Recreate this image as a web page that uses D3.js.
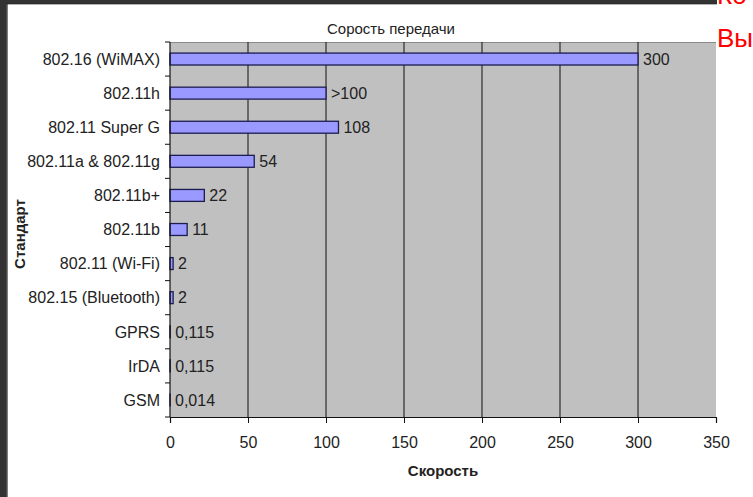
<!DOCTYPE html>
<html><head><meta charset="utf-8">
<script src="https://cdn.jsdelivr.net/npm/d3@7"></script>
<style>html,body{margin:0;padding:0;background:#fff;overflow:hidden}svg{display:block}</style>
</head><body>
<svg id="c" width="753" height="497"></svg>
<script>
const categories = ["802.16 (WiMAX)","802.11h","802.11 Super G","802.11a & 802.11g","802.11b+","802.11b","802.11 (Wi-Fi)","802.15 (Bluetooth)","GPRS","IrDA","GSM"];
const speeds = [300, 100, 108, 54, 22, 11, 2, 2, 0.115, 0.115, 0.014];
const valueLabels = ["300", ">100", "108", "54", "22", "11", "2", "2", "0,115", "0,115", "0,014"];
const xTicks = [0, 50, 100, 150, 200, 250, 300, 350];
const title = "Сорость передачи";
const xTitle = "Скорость";
const yTitle = "Стандарт";

const svg = d3.select("#c");
const font = "'Liberation Sans', Arial, sans-serif";
const txt = "#222";

// page frame
svg.append("rect").attr("x",0).attr("y",0).attr("width",753).attr("height",497).attr("fill","#fff");
svg.append("rect").attr("x",0).attr("y",0).attr("width",717).attr("height",3.5).attr("fill","#333");
svg.append("rect").attr("x",0).attr("y",0).attr("width",6.5).attr("height",497).attr("fill","#333");
svg.append("line").attr("x1",6.5).attr("x2",717).attr("y1",3.8).attr("y2",3.8).attr("stroke","#000").attr("stroke-width",1);
svg.append("line").attr("x1",7).attr("x2",7).attr("y1",3.5).attr("y2",497).attr("stroke","#000").attr("stroke-width",1);

const x = d3.scaleLinear().domain([0, 350]).range([170, 716]);
const y = d3.scaleBand().domain(categories).range([42, 417]).padding(0);
const barH = y.bandwidth() * 0.35;

// plot background
svg.append("rect").attr("x", x(0)).attr("y", y.range()[0])
  .attr("width", x(350) - x(0)).attr("height", y.range()[1] - y.range()[0])
  .attr("fill", "#c0c0c0");
svg.append("line").attr("x1", x(0)).attr("x2", x(350)).attr("y1", 42.5).attr("y2", 42.5)
  .attr("stroke", "#8a8a8a").attr("stroke-width", 1);

// gridlines
svg.append("g").selectAll("line").data(xTicks.filter(t => t > 0 && t < 350)).join("line")
  .attr("x1", d => x(d)).attr("x2", d => x(d))
  .attr("y1", y.range()[0]).attr("y2", y.range()[1])
  .attr("stroke", "#111").attr("stroke-width", 1);

// bars
svg.append("g").selectAll("rect").data(speeds).join("rect")
  .attr("x", x(0))
  .attr("y", (d, i) => y(categories[i]) + (y.bandwidth() - barH) / 2)
  .attr("width", d => x(d) - x(0))
  .attr("height", barH)
  .attr("fill", "#9999ff")
  .attr("stroke", "#1c1c50")
  .attr("stroke-width", 1.3);

// bottom axis
const xAxis = d3.axisBottom(x).tickValues(xTicks).tickSize(6).tickPadding(14).tickFormat(d3.format("d"));
const gx = svg.append("g").attr("transform", `translate(0,${y.range()[1]})`).call(xAxis);
gx.select(".domain").attr("stroke", "#111").attr("stroke-width", 1.2);
gx.selectAll(".tick line").attr("stroke", "#111");
gx.selectAll(".tick text").attr("font-family", font).attr("font-size", 16).attr("fill", txt);

// left axis
svg.append("line").attr("x1", x(0)).attr("x2", x(0)).attr("y1", y.range()[0]).attr("y2", y.range()[1])
  .attr("stroke", "#111").attr("stroke-width", 1.2);
const bounds = categories.map(c => y(c)).concat([y.range()[1]]);
svg.append("g").selectAll("line").data(bounds).join("line")
  .attr("x1", x(0) - 5).attr("x2", x(0)).attr("y1", d => d).attr("y2", d => d)
  .attr("stroke", "#111").attr("stroke-width", 1);

// category labels
svg.append("g").selectAll("text").data(categories).join("text")
  .attr("x", 160).attr("y", d => y(d) + y.bandwidth() / 2).attr("dy", "0.36em")
  .attr("text-anchor", "end").attr("font-family", font).attr("font-size", 16).attr("fill", txt)
  .text(d => d);

// value labels
svg.append("g").selectAll("text").data(speeds).join("text")
  .attr("x", d => x(d) + 5)
  .attr("y", (d, i) => y(categories[i]) + y.bandwidth() / 2).attr("dy", "0.36em")
  .attr("font-family", font).attr("font-size", 16).attr("fill", txt)
  .text((d, i) => valueLabels[i]);

// titles
svg.append("text").attr("x", 391).attr("y", 34).attr("text-anchor", "middle")
  .attr("font-family", font).attr("font-size", 15).attr("fill", txt).text(title);
svg.append("text").attr("x", 443).attr("y", 476).attr("text-anchor", "middle")
  .attr("font-family", font).attr("font-size", 15).attr("font-weight", "bold").attr("fill", txt).text(xTitle);
svg.append("text").attr("transform", "translate(25,234) rotate(-90)").attr("text-anchor", "middle")
  .attr("font-family", font).attr("font-size", 15).attr("font-weight", "bold").attr("fill", txt).text(yTitle);

// slide text at right edge
svg.append("text").attr("x", 717).attr("y", 4).attr("font-family", font).attr("font-size", 26).attr("fill", "#ff0000").text("Ко");
svg.append("text").attr("x", 717).attr("y", 47).attr("font-family", font).attr("font-size", 26).attr("fill", "#ff0000").text("Вы");
</script>
</body></html>
